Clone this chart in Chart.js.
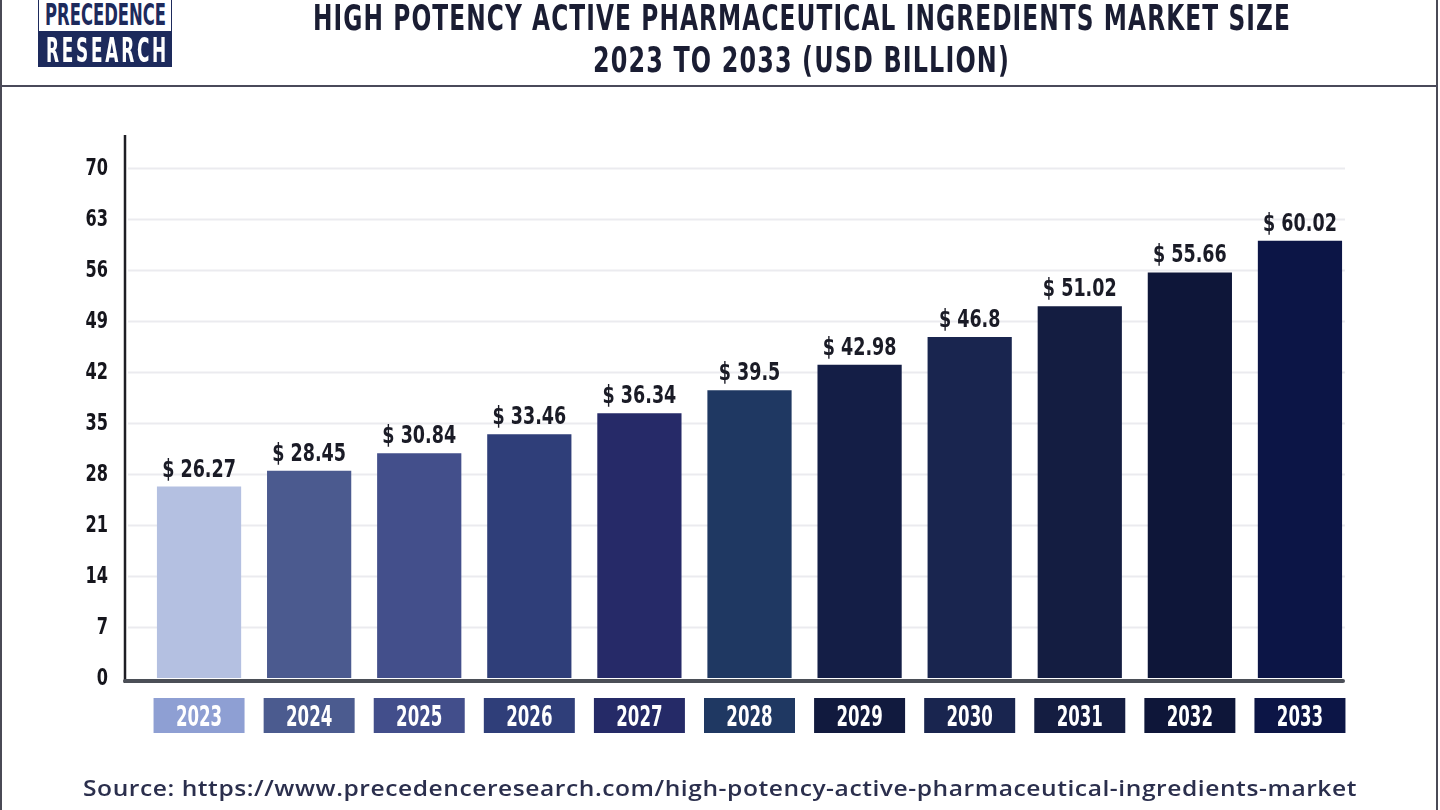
<!DOCTYPE html>
<html>
<head>
<meta charset="utf-8">
<script src="https://cdn.jsdelivr.net/npm/chart.js@4.4.1/dist/chart.umd.min.js"></script>
<style>
  html, body { margin: 0; padding: 0; background: #fff; }
  body { width: 1440px; height: 810px; position: relative; overflow: hidden; }
  #chart { position: absolute; left: 0; top: 0; }
  .frame-left { position: absolute; left: 0; top: 0; width: 2px; height: 810px; background: #4a4a55; }
  .frame-right { position: absolute; left: 1436px; top: 0; width: 2px; height: 810px; background: #4a4a55; }
  .frame-head { position: absolute; left: 0; top: 85px; width: 1438px; height: 2px; background: #4a4a5a; }
  .logo-top { position: absolute; left: 38px; top: -3px; width: 134px; height: 34px; background: #fff; border: 1.5px solid #1d2a5c; border-bottom: none; box-sizing: border-box; }
  .logo-bot { position: absolute; left: 38px; top: 31px; width: 134px; height: 36px; background: #1d2a5c; }
  .txt { position: absolute; white-space: nowrap; display: inline-block; transform-origin: left top; }
  .cond { font-family: "DejaVu Sans Condensed", sans-serif; font-weight: bold; }
</style>
</head>
<body>
<canvas id="chart" width="1440" height="810"></canvas>
<div class="frame-left"></div>
<div class="frame-right"></div>
<div class="frame-head"></div>
<div class="logo-top"></div>
<div class="logo-bot"></div>
<div class="txt cond" id="logoTop" style="color:#1d2a5c">PRECEDENCE</div>
<div class="txt cond" id="logoBot" style="color:#fff; letter-spacing:5px">RESEARCH</div>
<div class="txt cond" id="title1" style="color:#1a1d33; letter-spacing:1.5px">HIGH POTENCY ACTIVE PHARMACEUTICAL INGREDIENTS MARKET SIZE</div>
<div class="txt cond" id="title2" style="color:#1a1d33; letter-spacing:1.5px">2023 TO 2033 (USD BILLION)</div>
<div class="txt" id="source" style="color:#2b2f4d; font-family:'Open Sans', sans-serif; font-weight:600; letter-spacing:0.5px">Source: https://www.precedenceresearch.com/high-potency-active-pharmaceutical-ingredients-market</div>
<script>
/* ---------- data ---------- */
const years = ["2023", "2024", "2025", "2026", "2027", "2028", "2029", "2030", "2031", "2032", "2033"];
const marketSize = [26.27, 28.45, 30.84, 33.46, 36.34, 39.5, 42.98, 46.8, 51.02, 55.66, 60.02];
const yTicks = [0, 7, 14, 21, 28, 35, 42, 49, 56, 63, 70];

const barColors = ["#b4c0e1", "#4b5a8f", "#434f8b", "#2f3e79", "#262a68", "#1f3862",
                   "#141e46", "#19254f", "#141d41", "#0e1639", "#0c1546"];
const boxColors = ["#8e9fd3", "#4b5b8f", "#424e8b", "#2f3e79", "#252a67", "#1f3862",
                   "#111a3e", "#19254f", "#141d41", "#0e1639", "#0c1546"];

const CONDENSED = "'DejaVu Sans Condensed', 'Liberation Sans Narrow', sans-serif";

/* place a text line so its capitals start at capTop and it spans `width` px */
function placeText(id, left, capTop, width, size, capOffset) {
  const el = document.getElementById(id);
  el.style.fontSize = size + "px";
  el.style.lineHeight = size + "px";
  el.style.left = left + "px";
  el.style.top = capTop - capOffset * size + "px";
  const w = el.getBoundingClientRect().width;
  el.style.transform = `scaleX(${width / w})`;
}

placeText("logoTop", 45, 3, 121, 31, 0.117);
placeText("logoBot", 46, 37, 123, 34, 0.117);
placeText("title1", 313, 4, 978, 35.5, 0.117);
placeText("title2", 593, 47, 417, 35, 0.117);
placeText("source", 83, 780, 1274, 22, 0.174);

/* condensed text on the canvas, squeezed to look like the reference face */
function squeezedText(ctx, text, x, y, squeeze) {
  ctx.save();
  ctx.translate(x, y);
  ctx.scale(squeeze, 1);
  ctx.fillText(text, 0, 0);
  ctx.restore();
}

/* ---------- decoration plugin: grid, axes, labels, year boxes ---------- */
const decorPlugin = {
  id: "decor",
  beforeDatasetsDraw(chart) {
    const { ctx, scales } = chart;
    const y = scales.y;
    ctx.save();
    ctx.strokeStyle = "#ebebef";
    ctx.lineWidth = 2;
    yTicks.forEach((t) => {
      if (t === 0) return;
      const py = Math.round(y.getPixelForValue(t)) + 0.5;
      ctx.beginPath();
      ctx.moveTo(128, py);
      ctx.lineTo(1345, py);
      ctx.stroke();
    });

    // y tick labels
    ctx.fillStyle = "#15151c";
    ctx.font = "bold 23px " + CONDENSED;
    ctx.textAlign = "right";
    ctx.textBaseline = "middle";
    yTicks.forEach((t) => {
      squeezedText(ctx, String(t), 108, y.getPixelForValue(t) + 1, 0.78);
    });
    ctx.restore();
  },
  afterDatasetsDraw(chart) {
    const { ctx, scales } = chart;
    const x = scales.x;
    const y = scales.y;
    const base = y.getPixelForValue(0);
    ctx.save();

    // y axis line
    ctx.strokeStyle = "#1e1e24";
    ctx.lineWidth = 2.5;
    ctx.beginPath();
    ctx.moveTo(125, 135);
    ctx.lineTo(125, base + 5);
    ctx.stroke();

    // x axis line
    ctx.strokeStyle = "#4b4f57";
    ctx.lineWidth = 4;
    ctx.lineCap = "round";
    ctx.beginPath();
    ctx.moveTo(125, base + 3);
    ctx.lineTo(1343, base + 3);
    ctx.stroke();

    // value labels
    ctx.fillStyle = "#1a1b26";
    ctx.font = "bold 25px " + CONDENSED;
    ctx.textAlign = "center";
    ctx.textBaseline = "alphabetic";
    const meta = chart.getDatasetMeta(0);
    meta.data.forEach((bar, i) => {
      squeezedText(ctx, "$ " + String(marketSize[i]), bar.x, bar.y - 10, 0.78);
    });

    // year boxes under the axis
    years.forEach((yr, i) => {
      const cx = x.getPixelForValue(i);
      ctx.fillStyle = boxColors[i];
      ctx.fillRect(cx - 45.5, base + 20, 91, 35);
      ctx.fillStyle = "#ffffff";
      ctx.font = "bold 28px " + CONDENSED;
      ctx.textBaseline = "alphabetic";
      squeezedText(ctx, yr, cx, base + 48, 0.66);
    });
    ctx.restore();
  },
};

/* ---------- chart ---------- */
new Chart(document.getElementById("chart").getContext("2d"), {
  type: "bar",
  data: {
    labels: years,
    datasets: [
      {
        data: marketSize,
        backgroundColor: barColors,
        borderWidth: 0,
        barPercentage: 0.765,
        categoryPercentage: 1,
      },
    ],
  },
  options: {
    responsive: false,
    animation: false,
    devicePixelRatio: 1,
    layout: { padding: { left: 0, right: 85, top: 168, bottom: 132 } },
    plugins: { legend: { display: false }, tooltip: { enabled: false } },
    scales: {
      x: {
        grid: { display: false },
        border: { display: false },
        ticks: { display: false },
        afterFit(scale) { scale.height = 0; },
      },
      y: {
        min: 0,
        max: 70,
        afterBuildTicks(scale) { scale.ticks = yTicks.map((v) => ({ value: v })); },
        afterFit(scale) { scale.width = 144; },
        grid: { display: false, drawTicks: false },
        border: { display: false },
        ticks: { display: false },
      },
    },
  },
  plugins: [decorPlugin],
});
</script>
</body>
</html>
